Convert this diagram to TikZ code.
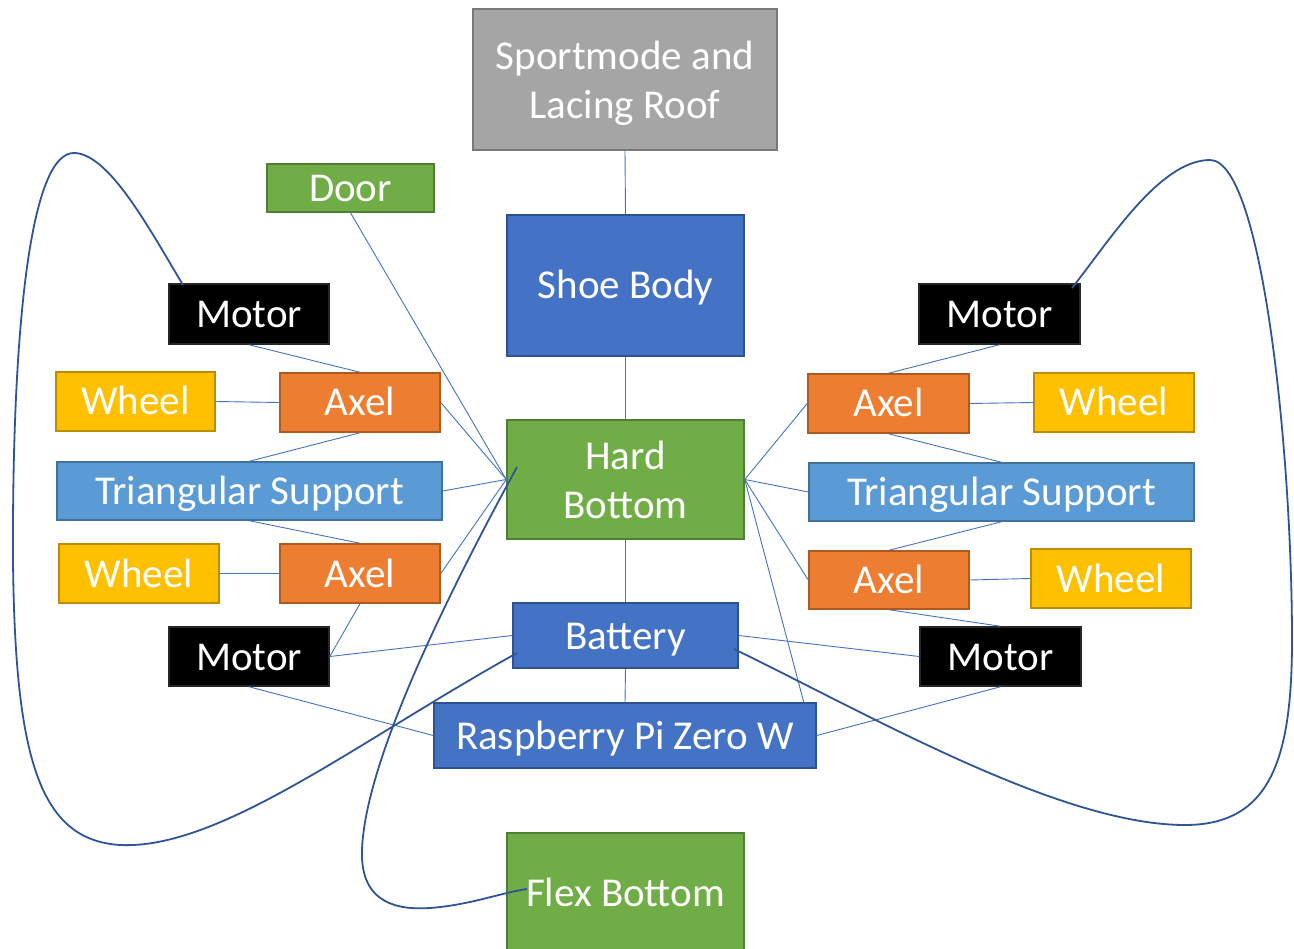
\documentclass[tikz,border=0pt]{standalone}
\usepackage{fontspec}
\setmainfont{Carlito}
\definecolor{cgreen}{HTML}{70AD47}\definecolor{cgreenb}{HTML}{507E32}
\definecolor{cblue}{HTML}{4472C4}\definecolor{cblueb}{HTML}{2F528F}
\definecolor{clblue}{HTML}{5B9BD5}\definecolor{clblueb}{HTML}{41719C}
\definecolor{corange}{HTML}{ED7D31}\definecolor{corangeb}{HTML}{AE5A21}
\definecolor{cyellow}{HTML}{FFC000}\definecolor{cyellowb}{HTML}{BC8C00}
\definecolor{cgray}{HTML}{A5A5A5}\definecolor{cgrayb}{HTML}{787878}
\definecolor{cline}{HTML}{4472C4}\definecolor{cdark}{HTML}{2F5597}
\begin{document}
\begin{tikzpicture}[x=1pt,y=-1pt,
  box/.style={draw, line width=1.5pt, text=white, font=\fontsize{41}{49}\selectfont, inner sep=0pt, align=center},
  one/.style={text height=32pt, text depth=5pt},
  sz/.style 2 args={minimum width=#1pt, minimum height=#2pt},
  gbox/.style={box, fill=cgreen, draw=cgreenb},
  bbox/.style={box, fill=cblue, draw=cblueb},
  lbbox/.style={box, fill=clblue, draw=clblueb},
  obox/.style={box, fill=corange, draw=corangeb},
  ybox/.style={box, fill=cyellow, draw=cyellowb},
  kbox/.style={box, fill=black, draw=black!85},
  graybox/.style={box, fill=cgray, draw=cgrayb},
  conn/.style={draw=cline, line width=0.9pt},
  curve/.style={draw=cdark, line width=1.8pt}]
\useasboundingbox (0,0) rectangle (1294,949);
\fill[white] (0,0) rectangle (1294,949);
\clip (0,0) rectangle (1294,949);

% central column
\node[graybox, sz={304}{141}, text depth=0pt] (roof) at (625,79.5) {Sportmode and\\Lacing Roof};
\node[gbox, one, sz={167}{48}] (door) at (350.5,188) {Door};
\node[bbox, one, sz={237}{141}] (shoe) at (625.5,285.5) {Shoe Body};
\node[gbox, sz={237}{119}] (hb) at (625.5,479.5) {Hard\\Bottom};
\node[bbox, one, sz={225}{65}] (bat) at (625.5,635.5) {Battery};
\node[bbox, one, sz={382}{65}] (rpi) at (625,735.5) {Raspberry Pi Zero W};
\node[gbox, one, sz={237}{120}] (flex) at (625.5,893) {Flex Bottom};

% left side
\node[kbox, one, sz={160}{60}] (lmt) at (249,314) {Motor};
\node[ybox, one, sz={159}{59}] (lwt) at (135.5,401.5) {Wheel};
\node[obox, one, sz={160}{59}] (lat) at (360,402.5) {Axel};
\node[lbbox, one, sz={385}{58}] (ltri) at (249.5,491) {Triangular Support};
\node[ybox, one, sz={160}{59}] (lwb) at (139,573.5) {Wheel};
\node[obox, one, sz={160}{59}] (lab) at (360,573.5) {Axel};
\node[kbox, one, sz={160}{59}] (lmb) at (249,656.5) {Motor};

% right side
\node[kbox, one, sz={161}{60}] (rmt) at (999.5,314) {Motor};
\node[obox, one, sz={161}{59}] (rat) at (888.5,403.5) {Axel};
\node[ybox, one, sz={160}{59}] (rwt) at (1114,402.5) {Wheel};
\node[lbbox, one, sz={385}{58}] (rtri) at (1001.5,492) {Triangular Support};
\node[obox, one, sz={160}{58}] (rab) at (889,580) {Axel};
\node[ybox, one, sz={160}{59}] (rwb) at (1111,578.5) {Wheel};
\node[kbox, one, sz={161}{59}] (rmb) at (1000.5,656.5) {Motor};

% central connectors
\draw[conn] (roof.south) -- (shoe.north);
\draw[conn] (shoe.south) -- (hb.north);
\draw[conn] (hb.south) -- (bat.north);
\draw[conn] (bat.south) -- (rpi.north);
\draw[conn] (door.south) -- (hb.west);

% left connectors
\draw[conn] (lmt.south) -- (lat.north);
\draw[conn] (lwt.east) -- (lat.west);
\draw[conn] (lat.east) -- (hb.west);
\draw[conn] (lat.south) -- (ltri.north);
\draw[conn] (ltri.east) -- (hb.west);
\draw[conn] (ltri.south) -- (lab.north);
\draw[conn] (lwb.east) -- (lab.west);
\draw[conn] (lab.east) -- (hb.west);
\draw[conn] (lab.south) -- (lmb.east);
\draw[conn] (lmb.east) -- (bat.west);
\draw[conn] (lmb.south) -- (rpi.west);

% right connectors
\draw[conn] (rmt.south) -- (rat.north);
\draw[conn] (rat.west) -- (hb.east);
\draw[conn] (rat.east) -- (rwt.west);
\draw[conn] (rat.south) -- (rtri.north);
\draw[conn] (rtri.west) -- (hb.east);
\draw[conn] (rtri.south) -- (rab.north);
\draw[conn] (rab.west) -- (hb.east);
\draw[conn] (rab.east) -- (rwb.west);
\draw[conn] (rab.south) -- (rmb.north);
\draw[conn] (bat.east) -- (rmb.west);
\draw[conn] (rmb.south) -- (rpi.east);
\draw[conn] (hb.east) -- ([xshift=-13pt]rpi.north east);

% curves
\coordinate (c1s) at (517,653);
\coordinate (c1e) at (183,285);
\coordinate (c2s) at (734,649);
\coordinate (c2e) at (1072,288);
\coordinate (c3s) at (517,467);
\coordinate (c3e) at (527,889);
\draw[curve] (c1s) .. controls (360,740) and (220,850) .. (120,845)
  .. controls (40,840) and (15,760) .. (13,560)
  .. controls (12,330) and (30,150) .. (75,153)
  .. controls (110,155) and (150,230) .. (c1e);
\draw[curve] (c2s) .. controls (870,715) and (1060,825) .. (1185,825)
  .. controls (1270,825) and (1292,760) .. (1292,640)
  .. controls (1292,450) and (1262,160) .. (1210,160)
  .. controls (1160,160) and (1110,240) .. (c2e);
\draw[curve] (c3s) .. controls (450,590) and (365,760) .. (362,850)
  .. controls (360,905) and (400,910) .. (430,908)
  .. controls (470,905) and (500,893) .. (c3e);
\end{tikzpicture}
\end{document}
